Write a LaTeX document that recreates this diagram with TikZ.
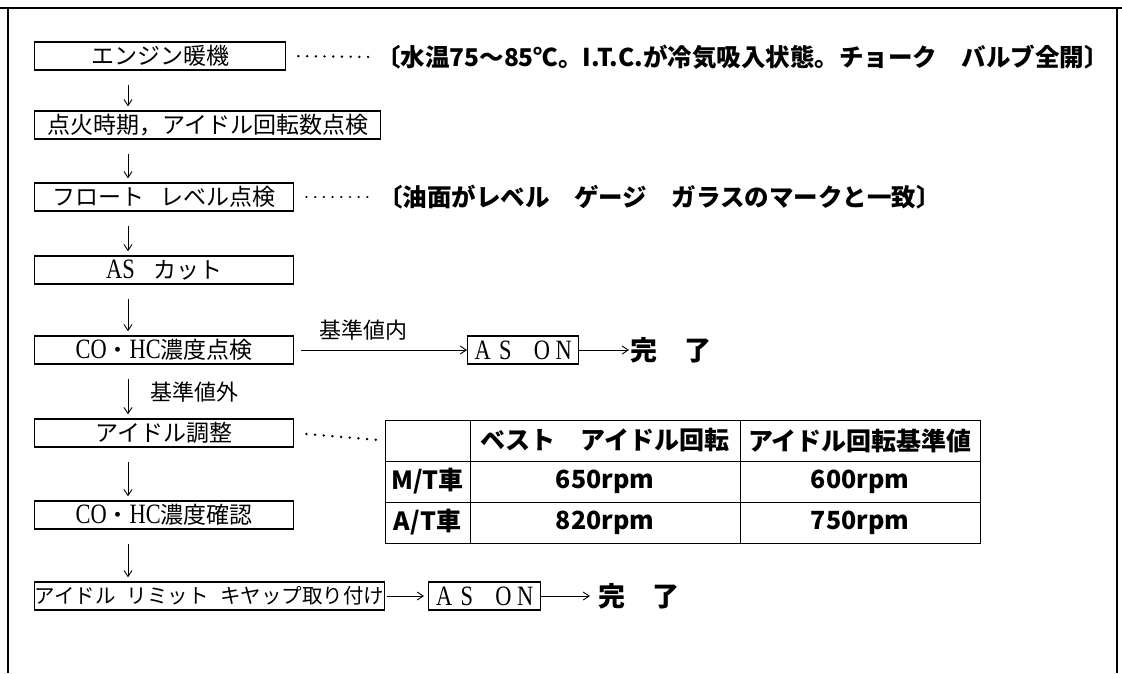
\documentclass[tikz,border=0pt]{standalone}
\usepackage{fontspec}
\setmainfont{Liberation Serif}
\newfontfamily\jp{Noto Sans CJK JP}
\newfontfamily\cond[FakeStretch=0.8]{Liberation Serif}
\usetikzlibrary{arrows.meta}
\begin{document}
\begin{tikzpicture}[x=1pt,y=-1pt,
  flowbox/.style={draw, line width=1.4pt, minimum height=28pt, inner sep=0pt, anchor=west,
    font=\jp\fontsize{23}{23}\selectfont},
  asbox/.style={flowbox, font=\cond\fontsize{28}{28}\selectfont},
  arr/.style={-{Straight Barb[length=6pt,width=8pt]}, line width=0.9pt},
  leader/.style={line width=2.6pt, dash pattern=on 0.1pt off 8.6pt, line cap=round},
  note/.style={anchor=west, inner sep=0pt, font=\jp\bfseries\fontsize{24.5}{24.5}\selectfont},
  done/.style={anchor=west, inner sep=0pt, font=\jp\bfseries\fontsize{27}{27}\selectfont},
  lbl/.style={inner sep=0pt, font=\jp\fontsize{22}{22}\selectfont},
  cell/.style={draw, line width=1pt, inner sep=0pt, minimum height=41pt,
    font=\jp\bfseries\fontsize{25}{25}\selectfont}]
\useasboundingbox (0,0) rectangle (1122,673);
% frame
\draw[line width=1.5pt] (0,8) -- (1122,8);
\draw[line width=1.2pt] (8,8) -- (8,673);
\draw[line width=1.2pt] (1117,8) -- (1117,673);
\coordinate (ax) at (128,0);
% flow boxes
\node[flowbox, minimum width=251] (b1) at (34,56) {エンジン暖機\hspace{0.8em}};
\node[flowbox, minimum width=346] (b2) at (34,125) {点火時期，アイドル回転数点検};
\node[flowbox, minimum width=259] (b3) at (34,197) {フロート\hspace{0.7em}レベル点検};
\node[flowbox, minimum width=259] (b4) at (34,270) {{\cond\fontsize{28}{28}\selectfont AS}\hspace{0.8em}カット\hspace{1.8em}};
\node[flowbox, minimum width=259] (b5) at (34,350) {{\cond\fontsize{28}{28}\selectfont CO}・{\cond\fontsize{28}{28}\selectfont HC}濃度点検};
\node[flowbox, minimum width=259] (b6) at (34,433) {アイドル調整\hspace{0.4em}};
\node[flowbox, minimum width=259] (b7) at (34,515) {{\cond\fontsize{28}{28}\selectfont CO}・{\cond\fontsize{28}{28}\selectfont HC}濃度確認};
\node[flowbox, minimum width=342, font=\jp\fontsize{20.5}{20.5}\selectfont] (b8) at (34,596) {アイドル\hspace{0.55em}リミット\hspace{0.55em}キヤップ取り付け};
% vertical arrows
\foreach \a/\b in {b1/b2,b2/b3,b3/b4,b4/b5,b5/b6,b6/b7,b7/b8}
  \draw[arr, shorten <=14pt, shorten >=4pt] (\a.south -| ax) -- (\b.north -| ax);
\node[lbl, anchor=west] (l1) at (150,392) {基準値外};
% notes
\node[note] (n1) at (376,57) {〔水温75～85℃。I.T.C.が冷気吸入状態。チョーク　バルブ全開〕};
\draw[leader, shorten <=12pt, shorten >=3pt] (b1.east) -- (n1.west);
\node[note] (n2) at (378,197) {〔油面がレベル　ゲージ　ガラスのマークと一致〕};
\draw[leader, shorten <=12pt, shorten >=3pt] (b3.east) -- (n2.west);
% CO HC branch
\node[asbox, minimum width=111] (as1) at (467,350) {A\hspace{0.3em}S\hspace{0.8em}O\hspace{0.2em}N};
\draw[arr, shorten <=7pt] (b5.east) -- node[lbl, pos=0.4, above=9pt] (l2) {基準値内} (as1.west);
\node[done] (d1) at (630,350) {完　了};
\draw[arr, shorten >=1pt] (as1.east) -- (d1.west);
% table
\node[cell, minimum width=85] (c11) at (427.5,440.5) {};
\node[cell, minimum width=270] (c12) at (605,440.5) {ベスト　アイドル回転};
\node[cell, minimum width=240] (c13) at (860,440.5) {アイドル回転基準値};
\node[cell, minimum width=85] (c21) at (427.5,481.5) {M/T車};
\node[cell, minimum width=270] (c22) at (605,481.5) {650rpm};
\node[cell, minimum width=240] (c23) at (860,481.5) {600rpm};
\node[cell, minimum width=85] (c31) at (427.5,522.5) {A/T車};
\node[cell, minimum width=270] (c32) at (605,522.5) {820rpm};
\node[cell, minimum width=240] (c33) at (860,522.5) {750rpm};
\draw[leader, shorten <=12pt, shorten >=6pt] (b6.east) -- (c11.west);
% bottom branch
\node[asbox, minimum width=112] (as2) at (428,596) {A\hspace{0.3em}S\hspace{0.8em}O\hspace{0.2em}N};
\draw[arr, shorten <=2pt, shorten >=4pt] (b8.east) -- (as2.west);
\node[done] (d2) at (598,596) {完　了};
\draw[arr, shorten >=8pt] (as2.east) -- (d2.west);
\end{tikzpicture}
\end{document}
